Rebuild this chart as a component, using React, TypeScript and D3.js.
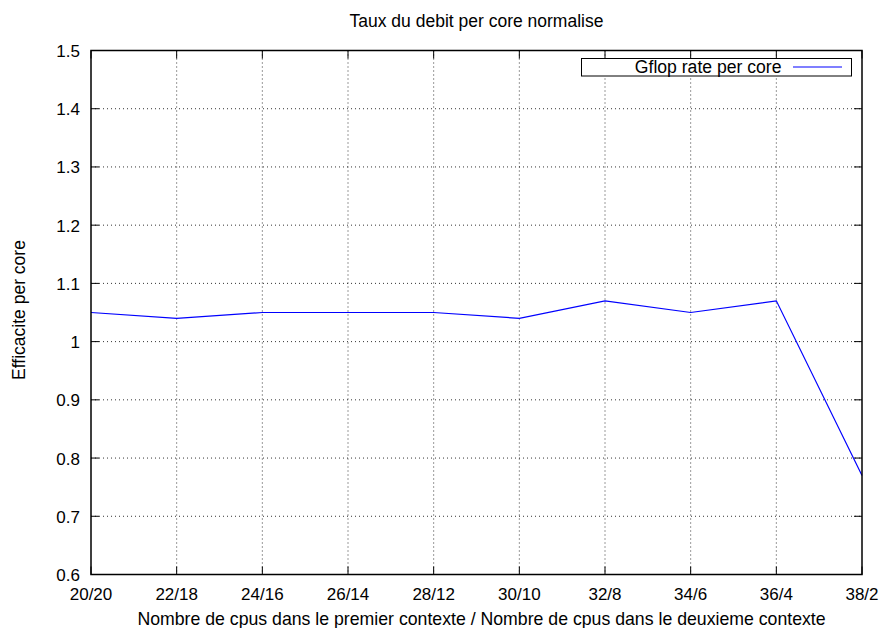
import React from "react";
import * as d3 from "d3";

const categories = ["20/20", "22/18", "24/16", "26/14", "28/12", "30/10", "32/8", "34/6", "36/4", "38/2"];
const values = [1.05, 1.04, 1.05, 1.05, 1.05, 1.04, 1.07, 1.05, 1.07, 0.77];
const yTicks = [0.6, 0.7, 0.8, 0.9, 1.0, 1.1, 1.2, 1.3, 1.4, 1.5];
const seriesName = "Gflop rate per core";
const title = "Taux du debit per core normalise";
const xLabel = "Nombre de cpus dans le premier contexte / Nombre de cpus dans le deuxieme contexte";
const yLabel = "Efficacite per core";

export default function App() {
  const W = 880, H = 628;
  const L = 91, R = 862, T = 50.5, B = 574.5;
  const x = d3.scalePoint<string>().domain(categories).range([L, R]);
  const y = d3.scaleLinear().domain([0.6, 1.5]).range([B, T]);
  const line = d3.line<number>().x((_, i) => x(categories[i])!).y((d) => y(d));
  const font = "Liberation Sans, Arial, Helvetica, sans-serif";
  const tl = 8;
  return (
    <svg width={W} height={H} style={{ position: "absolute", left: 0, top: 0 }} fontFamily={font}>
      <rect width={W} height={H} fill="#fff" />
      <g stroke="#000" strokeWidth={0.8} strokeDasharray="1,3" fill="none">
        {yTicks.slice(1, -1).map((t) => (
          <line key={t} x1={L} x2={R} y1={y(t)} y2={y(t)} />
        ))}
        {categories.slice(1, -1).map((c) => (
          <line key={c} x1={x(c)} x2={x(c)} y1={T} y2={B} />
        ))}
      </g>
      <g stroke="#000" strokeWidth={1}>
        {yTicks.map((t) => (
          <g key={t}>
            <line x1={L} x2={L + tl} y1={y(t)} y2={y(t)} />
            <line x1={R} x2={R - tl} y1={y(t)} y2={y(t)} />
          </g>
        ))}
        {categories.map((c) => (
          <g key={c}>
            <line x1={x(c)} x2={x(c)} y1={B} y2={B - tl} />
            <line x1={x(c)} x2={x(c)} y1={T} y2={T + tl} />
          </g>
        ))}
      </g>
      <g fontSize={17} fill="#000">
        {yTicks.map((t) => (
          <text key={t} x={L - 11} y={y(t) + 6.5} textAnchor="end">
            {d3.format("")(+t.toFixed(1))}
          </text>
        ))}
        {categories.map((c) => (
          <text key={c} x={x(c)} y={600} textAnchor="middle">{c}</text>
        ))}
      </g>
      <path d={line(values)!} fill="none" stroke="#0000ff" strokeWidth={1.2} />
      <rect x={L} y={T} width={R - L} height={B - T} fill="none" stroke="#000" strokeWidth={1.5} />
      <g>
        <rect x={581.5} y={58.5} width={270} height={17.5} fill="#fff" stroke="#000" strokeWidth={1} />
        <text x={781.5} y={72.5} fontSize={17.6} textAnchor="end">{seriesName}</text>
        <line x1={793} x2={842} y1={67} y2={67} stroke="#0000ff" strokeWidth={1.2} />
      </g>
      <text x={(L + R) / 2} y={27} fontSize={17.5} textAnchor="middle">{title}</text>
      <text x={(L + R) / 2 + 5} y={625} fontSize={17.7} textAnchor="middle">{xLabel}</text>
      <text transform={`translate(25,310) rotate(-90)`} fontSize={17.5} textAnchor="middle">{yLabel}</text>
    </svg>
  );
}
